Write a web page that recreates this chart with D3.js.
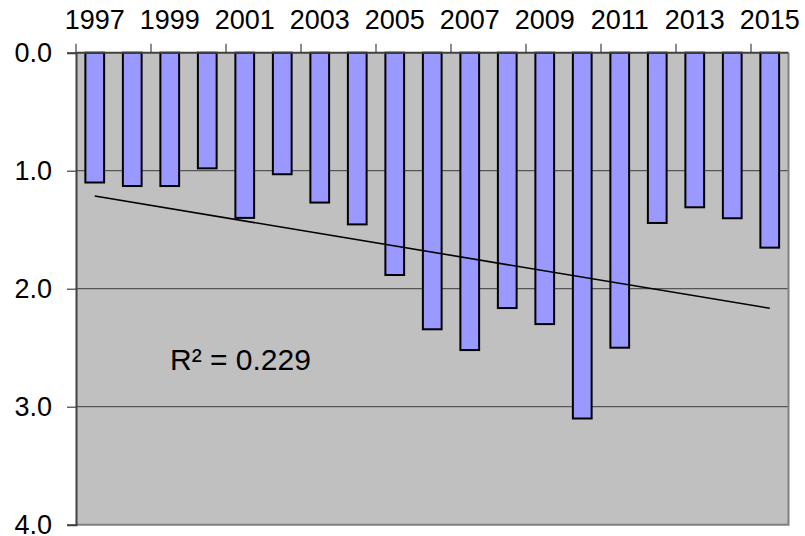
<!DOCTYPE html>
<html>
<head>
<meta charset="utf-8">
<script src="https://cdn.jsdelivr.net/npm/d3@7"></script>
<style>
  html, body { margin: 0; padding: 0; background: #ffffff; }
  svg { display: block; }
  svg text { font-family: "Liberation Sans", Arial, sans-serif; font-weight: normal; }
  .axislbl { font-size: 27px; }
  .r2 { font-size: 30px; }
</style>
</head>
<body>
<svg id="chart" width="805" height="536"></svg>
<script>
const years = [1997,1998,1999,2000,2001,2002,2003,2004,2005,2006,2007,2008,2009,2010,2011,2012,2013,2014,2015];
const values = [1.10,1.13,1.13,0.98,1.40,1.03,1.27,1.455,1.884,2.344,2.52,2.164,2.30,3.10,2.50,1.443,1.31,1.403,1.652];
const xTickLabels = [1997,1999,2001,2003,2005,2007,2009,2011,2013,2015];
const yTicks = [0,1,2,3,4];
const r2Label = "R\u00B2 = 0.229";

(function () {
const svg = d3.select("#chart");
const pLeft = 76, pRight = 788.5, pTop = 52.7, pBottom = 524.7;

const x = d3.scaleBand().domain(years).range([pLeft, pRight]).paddingInner(0.5).paddingOuter(0.25);
const y = d3.scaleLinear().domain([0, 4]).range([pTop, pBottom]);
const step = x.step();
const gap = step - x.bandwidth();

// plot background
svg.append("rect").attr("x", pLeft).attr("y", pTop).attr("width", pRight - pLeft).attr("height", pBottom - pTop)
  .attr("fill", "#c0c0c0");

// gridlines
svg.append("g").selectAll("line").data(yTicks.filter(d => d > 0 && d < 4)).join("line")
  .attr("x1", pLeft).attr("x2", pRight).attr("y1", d => y(d)).attr("y2", d => y(d))
  .attr("stroke", "#555555").attr("stroke-width", 1.2);

// right & bottom border
svg.append("path").attr("d", `M${pRight},${pTop}V${pBottom}H${pLeft}`)
  .attr("fill", "none").attr("stroke", "#808080").attr("stroke-width", 2);

// bars
svg.append("g").selectAll("rect").data(years).join("rect")
  .attr("x", d => x(d)).attr("width", x.bandwidth())
  .attr("y", y(0)).attr("height", (d, i) => y(values[i]) - y(0))
  .attr("fill", "#9999ff").attr("stroke", "#000").attr("stroke-width", 2);

// linear trendline
const n = values.length;
const idx = d3.range(n);
const mx = d3.mean(idx), my = d3.mean(values);
const slope = d3.sum(idx, i => (i - mx) * (values[i] - my)) / d3.sum(idx, i => (i - mx) ** 2);
const intercept = my - slope * mx;
const cx = d => x(d) + x.bandwidth() / 2;
svg.append("line")
  .attr("x1", cx(years[0])).attr("y1", y(intercept))
  .attr("x2", cx(years[n - 1])).attr("y2", y(intercept + slope * (n - 1)))
  .attr("stroke", "#000").attr("stroke-width", 1.6);

// R² label
svg.append("text").attr("class", "r2").attr("x", 170).attr("y", 370).attr("fill", "#000").text(r2Label);

// y axis
const yAxis = svg.append("g").attr("transform", `translate(${pLeft},0)`)
  .call(d3.axisLeft(y).tickValues(yTicks).tickFormat(d3.format(".1f")).tickSize(9).tickPadding(15));
yAxis.attr("font-size", null).attr("font-family", null);
yAxis.select(".domain").attr("stroke", "#404040").attr("stroke-width", 2);
yAxis.selectAll(".tick line").attr("stroke", "#404040").attr("stroke-width", 1.2);
yAxis.selectAll("text").attr("class", "axislbl").attr("fill", "#000");

// x axis (top): labels at centers
const xAxis = svg.append("g").attr("transform", `translate(0,${pTop})`)
  .call(d3.axisTop(x).tickValues(xTickLabels).tickSize(0).tickPadding(23.5));
xAxis.attr("font-size", null).attr("font-family", null);
xAxis.select(".domain").remove();
xAxis.selectAll("text").attr("class", "axislbl").attr("fill", "#000");

// x axis line and boundary ticks
svg.append("line").attr("x1", pLeft).attr("x2", pRight).attr("y1", pTop).attr("y2", pTop)
  .attr("stroke", "#404040").attr("stroke-width", 2);
svg.append("g").selectAll("line").data(xTickLabels).join("line")
  .attr("x1", d => x(d) - gap / 2).attr("x2", d => x(d) - gap / 2)
  .attr("y1", pTop).attr("y2", pTop - 9)
  .attr("stroke", "#404040").attr("stroke-width", 1.2);
})();
</script>
</body>
</html>
